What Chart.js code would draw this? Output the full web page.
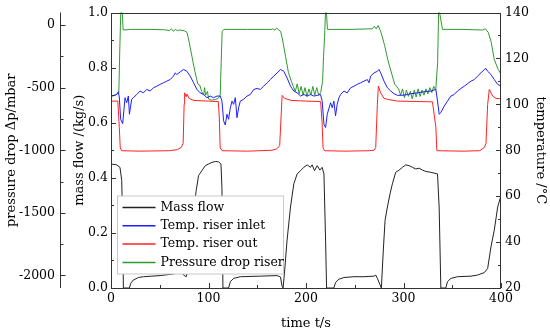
<!DOCTYPE html>
<html>
<head>
<meta charset="utf-8">
<script src="https://cdn.jsdelivr.net/npm/chart.js@4.4.0/dist/chart.umd.min.js"></script>
<style>
  html, body { margin: 0; padding: 0; background: #fff; }
</style>
</head>
<body>
<canvas id="chart" width="550" height="333"></canvas>
<script>
// series names
const seriesLabels = ['Mass flow', 'Temp. riser inlet', 'Temp. riser out', 'Pressure drop riser'];
const seriesColors = ['#222222', '#1f1fff', '#ff2222', '#2f9a2f'];

// axis ticks
const timeTicks = [0, 100, 200, 300, 400];
const massTicks = [0, 0.2, 0.4, 0.6, 0.8, 1.0];
const tempTicks = [20, 40, 60, 80, 100, 120, 140];
const pressureTicks = [0, -500, -1000, -1500, -2000];

// mass flow (kg/s)
const massTime = [0, 5.8, 9.2, 11, 12, 12.7, 18.9, 20.2, 22.9, 28.1, 33.2, 50.4, 64.1, 70.9, 72.6, 74.4, 77.1, 78.5, 83, 87.4,
  89.8, 93.2, 96.7, 100.1, 103.5, 106.9, 110.4, 112.8, 113.8, 114.8, 120.6, 122.4, 125.8, 132.6, 153.2, 170.4, 173.8, 175.5, 176.5, 177.9,
  180.6, 184.1, 187.5, 190.9, 194.4, 197.8, 201.2, 204.6, 206.3, 208.7, 211.5, 214.2, 216.6, 218.4, 220.1, 221.1, 228.6, 230.3, 233.8, 238.9,
  249.2, 259.5, 269.8, 271.5, 273.2, 275.9, 277.3, 279.3, 281.1, 283.5, 286.2, 288.6, 292.0, 295.5, 298.9, 302.3, 305.8, 309.2, 312.6, 316.0,
  319.5, 322.9, 328.0, 334.9, 336.6, 338.3, 343.4, 345.1, 348.6, 355.4, 369.2, 376.0, 382.9, 386.3, 389.7, 393.1, 396.6, 400];
const massFlow = [0.450, 0.447, 0.438, 0.39, 0.23, 0, 0, 0.017, 0.029, 0.038, 0.041, 0.045, 0.051, 0.056, 0.063, 0.047, 0.041, 0.059, 0.23, 0.354,
  0.408, 0.426, 0.444, 0.450, 0.456, 0.459, 0.458, 0.450, 0.36, 0, 0, 0.023, 0.035, 0.041, 0.043, 0.045, 0.040, 0.006, 0, 0.053,
  0.174, 0.294, 0.378, 0.414, 0.426, 0.438, 0.447, 0.438, 0.447, 0.426, 0.444, 0.428, 0.438, 0.414, 0.17, 0, 0, 0.02, 0.032, 0.038,
  0.041, 0.041, 0.043, 0.047, 0.035, 0.012, 0, 0.138, 0.246, 0.294, 0.342, 0.378, 0.42, 0.428, 0.438, 0.447, 0.444, 0.438, 0.432, 0.435,
  0.428, 0.423, 0.42, 0.414, 0.29, 0, 0, 0.023, 0.035, 0.041, 0.043, 0.047, 0.056, 0.071, 0.149, 0.21, 0.294, 0.336];

// riser inlet temperature (°C)
const inletTime = [0, 5.8, 7.5, 8.5, 9.9, 12, 14.4, 16.1, 17.8, 18.9, 21.2, 22.9, 26.4, 29.8, 33.2, 36.7, 40.1, 43.5, 47, 50.4,
  53.8, 57.2, 60.7, 64.1, 65.8, 67.5, 70.9, 74.4, 77.8, 81.2, 84.7, 88.1, 91.5, 94.9, 98.4, 101.8, 105.2, 108.7, 112.1, 113.8,
  115.5, 117.2, 118.9, 120.6, 122.4, 124.1, 125.8, 127.5, 129.2, 130.9, 132.6, 136.1, 139.5, 142.9, 146.4, 149.8, 153.2, 156.6, 160.1, 163.5,
  166.9, 170.4, 173.8, 177.2, 180.6, 184.1, 187.5, 190.9, 194.4, 197.8, 201.2, 204.6, 208.1, 211.5, 214.9, 216.6, 218.4, 220.1, 221.8, 225.2,
  226.9, 228.6, 230.3, 232.0, 233.8, 235.5, 238.9, 242.3, 245.8, 249.2, 252.6, 256.0, 259.5, 262.9, 264.6, 266.3, 269.8, 273.2, 274.9, 276.6,
  280.0, 283.5, 286.9, 290.3, 293.8, 300.6, 307.5, 314.3, 321.2, 328.0, 333.2, 334.9, 336.6, 338.3, 341.7, 345.1, 348.6, 352.0, 355.4, 358.9,
  362.3, 365.7, 369.2, 372.6, 376.0, 379.4, 382.9, 384.6, 386.3, 389.7, 393.1, 396.6, 400];
const inletTemp = [103.6, 104.3, 105.5, 103.2, 93.5, 91.6, 102.9, 100.7, 103.6, 95.7, 102.2, 102.9, 104.3, 105.8, 105.0, 106.5, 105.8, 107.2, 107.9, 108.7,
  109.4, 110.1, 110.8, 112.3, 113.7, 113.0, 114.1, 115.2, 114.4, 112.3, 109.4, 106.5, 105.0, 104.3, 102.9, 103.6, 102.9, 103.6, 103.6, 101.4,
  92.8, 91.0, 95.7, 93.5, 98.5, 101.4, 100.0, 102.9, 94.2, 98.5, 101.4, 102.2, 103.6, 104.3, 106.5, 106.9, 106.5, 107.9, 109.4, 110.8,
  112.3, 113.7, 115.2, 114.4, 111.5, 107.9, 105.8, 105.0, 103.6, 104.3, 103.6, 104.3, 103.6, 103.9, 104.3, 101.4, 91.3, 89.9, 95.7, 100.7,
  98.5, 101.4, 95.0, 100.0, 102.9, 104.3, 105.8, 105.0, 107.2, 107.9, 108.7, 109.4, 110.1, 110.8, 109.4, 112.3, 113.7, 114.4, 115.2, 113.7,
  110.1, 107.2, 105.8, 104.6, 103.9, 104.0, 104.6, 105.0, 105.5, 105.8, 106.5, 101.4, 95.7, 96.4, 99.2, 101.4, 103.6, 104.3, 105.8, 106.9,
  107.9, 109.0, 110.1, 110.8, 112.3, 113.7, 115.2, 115.6, 114.4, 113.0, 110.8, 108.7, 107.9];

// riser outlet temperature (°C)
const outletTime = [0, 7, 8.5, 9.5, 11, 30, 60, 68, 72, 74, 75, 75.5, 77, 78, 80, 85, 100, 110, 111, 112,
  114, 140, 165, 170, 173, 174.5, 175.5, 178, 185, 200, 215, 216.5, 217.5, 219, 240, 265, 269.8, 271.5, 273.2, 274.2,
  276.6, 280, 283.5, 293.8, 328, 329.7, 333.2, 334.2, 360, 378, 382.9, 384.6, 386.3, 388, 391.4, 394.9, 400];
const outletTemp = [101.4, 101.4, 90, 81, 79.8, 79.6, 79.8, 80.3, 81.2, 83, 100, 105.0, 103.3, 104.5, 102.6, 101.7, 101.4, 101.2, 95, 81,
  79.8, 79.6, 80.0, 80.6, 82, 95, 103.9, 102.6, 101.7, 101.4, 101.2, 92, 81, 79.8, 79.6, 79.8, 80.0, 81.2, 100, 107.9,
  105.0, 102.6, 102.2, 101.4, 101.1, 101.1, 90, 79.8, 79.6, 79.8, 81.2, 83, 100, 106.5, 103.6, 102.6, 102.4];

// riser pressure drop (mbar)
const pressureTime = [0, 5, 8, 9, 10, 11.5, 12.5, 20, 40, 55, 60, 62, 64, 66, 68, 70, 75, 78, 80, 83,
  86, 89, 91, 93, 95, 96, 97, 99, 100, 103, 107, 110, 112, 113, 114, 116, 140, 165, 166, 168,
  170, 172, 174, 176, 179, 182, 185, 187, 189, 191, 193, 195, 197, 199, 201, 203, 205, 207, 209, 211,
  213, 215, 217, 218, 219, 220, 221, 222, 245, 268, 270, 272, 274, 276, 277, 280.6, 284, 288, 291, 295,
  297, 299, 301, 303, 305, 307, 309, 311, 313, 315, 317, 319, 321, 323, 325, 327, 329, 331, 333, 335,
  336, 337, 340, 360, 381, 384, 387, 390, 393, 397, 400];
const pressureDrop = [-570, -560, -540, -200, 100, 100, -40, -35, -35, -38, -45, -30, -50, -35, -45, -40, -45, -60, -130, -250,
  -370, -470, -480, -530, -560, -500, -560, -530, -590, -600, -595, -585, -560, -300, -50, -35, -35, -35, -30, -40,
  -25, -40, -50, -120, -250, -380, -450, -490, -530, -470, -550, -490, -560, -500, -570, -510, -560, -490, -560, -500,
  -560, -540, -450, -250, -100, 100, 100, -35, -35, -30, -10, -30, -5, -40, -60, -162, -281, -392, -472, -511,
  -560, -510, -580, -520, -570, -530, -590, -520, -575, -510, -570, -520, -560, -510, -550, -500, -540, -490, -520, -300,
  100, 100, -35, -35, -40, -30, -60, -138, -273, -353, -392];

const FONT = 'DejaVu Serif';

function pts(xs, ys) {
  return xs.map((x, i) => ({ x: x, y: ys[i] }));
}

function midpoints(vals) {
  const out = [];
  for (let i = 1; i < vals.length; i++) out.push((vals[i - 1] + vals[i]) / 2);
  return out;
}

function useTicks(list) {
  return function (scale) {
    scale.ticks = list.map(v => ({ value: v }));
  };
}

// frame and inward tick marks
const frameTicks = {
  id: 'frameTicks',
  afterDatasetsDraw(chart) {
    const { ctx, chartArea: a, scales } = chart;
    ctx.save();
    ctx.strokeStyle = '#333';
    ctx.lineWidth = 1;
    ctx.strokeRect(Math.round(a.left) + 0.5, Math.round(a.top) + 0.5,
      Math.round(a.right - a.left) - 1, Math.round(a.bottom - a.top) - 1);

    function mark(x1, y1, x2, y2) {
      ctx.beginPath();
      ctx.moveTo(x1, y1);
      ctx.lineTo(x2, y2);
      ctx.stroke();
    }

    const x = scales.x;
    timeTicks.forEach(v => { const p = Math.round(x.getPixelForValue(v)) + 0.5; mark(p, a.bottom, p, a.bottom - 5); });
    midpoints(timeTicks).forEach(v => { const p = Math.round(x.getPixelForValue(v)) + 0.5; mark(p, a.bottom, p, a.bottom - 3); });

    const m = scales.yMass;
    massTicks.forEach(v => { const p = Math.round(m.getPixelForValue(v)) + 0.5; mark(a.left, p, a.left + 5, p); });
    midpoints(massTicks).forEach(v => { const p = Math.round(m.getPixelForValue(v)) + 0.5; mark(a.left, p, a.left + 3, p); });

    const t = scales.yTemp;
    tempTicks.forEach(v => { const p = Math.round(t.getPixelForValue(v)) + 0.5; mark(a.right, p, a.right - 5, p); });
    midpoints(tempTicks).forEach(v => { const p = Math.round(t.getPixelForValue(v)) + 0.5; mark(a.right, p, a.right - 3, p); });

    const pr = scales.yPressure;
    const px = Math.round(pr.right) + 0.5;
    mark(px, a.top, px, a.bottom);
    pressureTicks.forEach(v => { const p = Math.round(pr.getPixelForValue(v)) + 0.5; mark(px, p, px + 5, p); });
    midpoints(pressureTicks).forEach(v => { const p = Math.round(pr.getPixelForValue(v)) + 0.5; mark(px, p, px + 3, p); });
    ctx.restore();
  }
};

// boxed legend inside the plot
const boxLegend = {
  id: 'boxLegend',
  afterDraw(chart) {
    const { ctx, chartArea: a } = chart;
    const bx = a.left + 6.5, by = a.top + 183.5, bw = 166, bh = 78;
    ctx.save();
    ctx.fillStyle = '#fff';
    ctx.fillRect(bx, by, bw, bh);
    ctx.strokeStyle = '#c8c8c8';
    ctx.lineWidth = 1;
    ctx.strokeRect(bx, by, bw, bh);
    ctx.font = '12.5px "' + FONT + '"';
    ctx.textBaseline = 'middle';
    chart.data.datasets.forEach((ds, i) => {
      const y = by + 11.5 + i * 18.3;
      ctx.strokeStyle = ds.borderColor;
      ctx.lineWidth = 1.5;
      ctx.beginPath();
      ctx.moveTo(bx + 5, y);
      ctx.lineTo(bx + 38, y);
      ctx.stroke();
      ctx.fillStyle = '#000';
      ctx.fillText(ds.label, bx + 43, y);
    });
    ctx.restore();
  }
};

const tickFont = { family: FONT, size: 12.5 };
const titleFont = { family: FONT, size: 13 };

new Chart(document.getElementById('chart'), {
  type: 'line',
  data: {
    datasets: [
      { label: seriesLabels[0], data: pts(massTime, massFlow), yAxisID: 'yMass', borderColor: seriesColors[0] },
      { label: seriesLabels[1], data: pts(inletTime, inletTemp), yAxisID: 'yTemp', borderColor: seriesColors[1] },
      { label: seriesLabels[2], data: pts(outletTime, outletTemp), yAxisID: 'yTemp', borderColor: seriesColors[2] },
      { label: seriesLabels[3], data: pts(pressureTime, pressureDrop), yAxisID: 'yPressure', borderColor: seriesColors[3] }
    ]
  },
  options: {
    responsive: false,
    animation: false,
    layout: { padding: { top: 10, right: 0, left: 0, bottom: 0 } },
    elements: {
      line: { borderWidth: 1, tension: 0, fill: false },
      point: { radius: 0 }
    },
    plugins: { legend: { display: false }, tooltip: { enabled: false } },
    scales: {
      x: {
        type: 'linear', min: 0, max: 400,
        afterBuildTicks: useTicks(timeTicks),
        afterFit(scale) { scale.height = 45; },
        grid: { display: false, drawTicks: false },
        border: { display: false },
        ticks: { font: tickFont, color: '#000', padding: 3, maxRotation: 0, callback: v => String(v) },
        title: { display: true, text: 'time t/s', font: titleFont, color: '#000', padding: { top: 0, bottom: 2 } }
      },
      yMass: {
        type: 'linear', position: 'left', weight: 0, min: 0, max: 1,
        afterBuildTicks: useTicks(massTicks),
        afterFit(scale) { scale.width = 51; },
        grid: { display: false, drawTicks: false },
        border: { display: false },
        ticks: { font: tickFont, color: '#000', padding: 3, callback: v => v.toFixed(1) },
        title: { display: true, text: 'mass flow /(kg/s)', font: titleFont, color: '#000', padding: { top: 12, bottom: 0 } }
      },
      yPressure: {
        type: 'linear', position: 'left', weight: 1, min: -2100, max: 100,
        afterBuildTicks: useTicks(pressureTicks),
        afterFit(scale) { scale.width = 60; },
        grid: { display: false, drawTicks: false },
        border: { display: false },
        ticks: { font: tickFont, color: '#000', padding: 5, callback: v => String(v) },
        title: { display: true, text: 'pressure drop Δp/mbar', font: titleFont, color: '#000', padding: { top: 4, bottom: 0 } }
      },
      yTemp: {
        type: 'linear', position: 'right', min: 20, max: 140,
        afterBuildTicks: useTicks(tempTicks),
        afterFit(scale) { scale.width = 49; },
        grid: { display: false, drawTicks: false },
        border: { display: false },
        ticks: { font: tickFont, color: '#000', padding: 4, callback: v => String(v) },
        title: { display: true, text: 'temperature /°C', font: titleFont, color: '#000', padding: { top: 2, bottom: 0 } }
      }
    }
  },
  plugins: [frameTicks, boxLegend]
});
</script>
</body>
</html>
